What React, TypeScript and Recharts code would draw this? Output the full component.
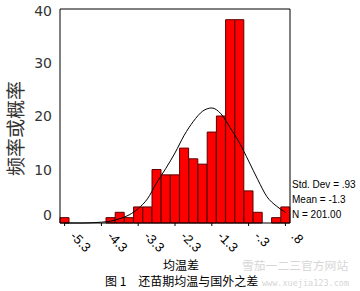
import React from 'react';
import { ComposedChart, Bar, Line, XAxis, YAxis, ReferenceLine } from 'recharts';

// bin midpoints of 均温差 (bin width .25)
const binCenters = [
  -5.25, -5.0, -4.75, -4.5, -4.25, -4.0, -3.75, -3.5, -3.25, -3.0, -2.75, -2.5, -2.25,
  -2.0, -1.75, -1.5, -1.25, -1.0, -0.75, -0.5, -0.25, 0.0, 0.25, 0.5, 0.75,
];
const counts = [1, 0, 0, 0, 0, 1, 2, 1, 3, 3, 10, 9, 9, 14, 12, 11, 17, 20, 38, 38, 6, 2, 0, 1, 3];
// normal curve at each bin midpoint
const normalCurve = [
  0, 0, 0, 0.05, 0.15, 0.35, 0.8, 1.5, 2.7, 4.5, 7.5, 10.2, 13.1, 16.4, 19.0, 20.9, 21.5,
  20.4, 17.8, 15.0, 11.6, 8.1, 4.9, 3.2, 2.0,
];
const tickLabels = ['-5.3', '-4.3', '-3.3', '-2.3', '-1.3', '-.3', '.8'];
const yTicks = [0, 10, 20, 30, 40];
const stats = ['Std. Dev = .93', 'Mean = -1.3', 'N = 201.00'];

const data = binCenters.map((c, i) => ({ center: c, count: counts[i], curve: normalCurve[i] }));

const XTick = (props: any) => {
  const { x, y, payload } = props;
  const idx = binCenters.indexOf(payload.value);
  const label = tickLabels[Math.round(idx / 4)];
  const ax = x + 5;
  const ay = y + 9;
  return (
    <text
      x={ax}
      y={ay}
      transform={`rotate(45 ${ax} ${ay})`}
      textAnchor="start"
      fontSize={13}
      fontFamily="'Liberation Sans', Arial, sans-serif"
      fill="#000"
    >
      {label}
    </text>
  );
};

const YTick = (props: any) => {
  const { x, y, payload } = props;
  const shift = payload.value === 0 ? -8 : payload.value === 40 ? 2 : 0;
  return (
    <text
      x={x}
      y={y + shift}
      dy="0.36em"
      textAnchor="end"
      fontSize={14}
      fontFamily="'DejaVu Sans', sans-serif"
      fill="#333"
    >
      {payload.value}
    </text>
  );
};

export default function App() {
  return (
    <div style={{ position: 'absolute', left: 0, top: 0, width: 360, height: 291, background: '#fff' }}>
      <ComposedChart
        width={360}
        height={291}
        data={data}
        margin={{ top: 9, right: 70, bottom: 0, left: 0 }}
        barCategoryGap={0}
        barGap={0}
      >
        <XAxis
          dataKey="center"
          interval={3}
          height={68}
          tickSize={3}
          tickMargin={2}
          axisLine={{ stroke: '#000' }}
          tickLine={{ stroke: '#000' }}
          tick={<XTick />}
        />
        <YAxis
          domain={[0, 40]}
          ticks={yTicks}
          width={60}
          tickSize={6}
          tickMargin={2}
          tickLine={false}
          axisLine={{ stroke: '#000' }}
          tick={<YTick />}
        />
        <ReferenceLine y={40} stroke="#000" />
        <ReferenceLine x={0.75} position="end" stroke="#000" />
        <Bar dataKey="count" fill="#ff0000" stroke="#5a0000" strokeWidth={1} isAnimationActive={false} />
        <Line
          dataKey="curve"
          type="monotone"
          stroke="#000"
          strokeWidth={1}
          dot={false}
          isAnimationActive={false}
        />
      </ComposedChart>
      <svg
        width={360}
        height={291}
        style={{ position: 'absolute', left: 0, top: 0, pointerEvents: 'none' }}
      >
        <text
          transform="translate(14 128.5) rotate(-90)"
          textAnchor="middle"
          dominantBaseline="central"
          fontSize={19}
          fontFamily="'Noto Sans CJK SC', sans-serif"
          fill="#333"
        >
          频率或概率
        </text>
        {stats.map((s, i) => (
          <text
            key={s}
            x={292}
            y={187.5 + i * 15}
            fontSize={10}
            fontFamily="'Liberation Sans', Arial, sans-serif"
            fill="#000"
          >
            {s}
          </text>
        ))}
        <text x={181} y={269.5} textAnchor="middle" fontSize={12} fontFamily="'Noto Sans CJK SC', sans-serif" fill="#000">
          均温差
        </text>
        <text x={242} y={269.5} fontSize={11.8} fontFamily="'Noto Sans CJK SC', sans-serif" fill="#d6d6d6">
          雪茄一二三官方网站
        </text>
        <text x={262} y={285.5} fontSize={8.5} fontFamily="'DejaVu Sans Mono', monospace" fill="#d6d6d6">
          www.xuejia123.com
        </text>
        <text x={105} y={286} fontSize={12} fontFamily="'Noto Sans CJK SC', sans-serif" fill="#000">
          图 1　还苗期均温与国外之差
        </text>
      </svg>
    </div>
  );
}
